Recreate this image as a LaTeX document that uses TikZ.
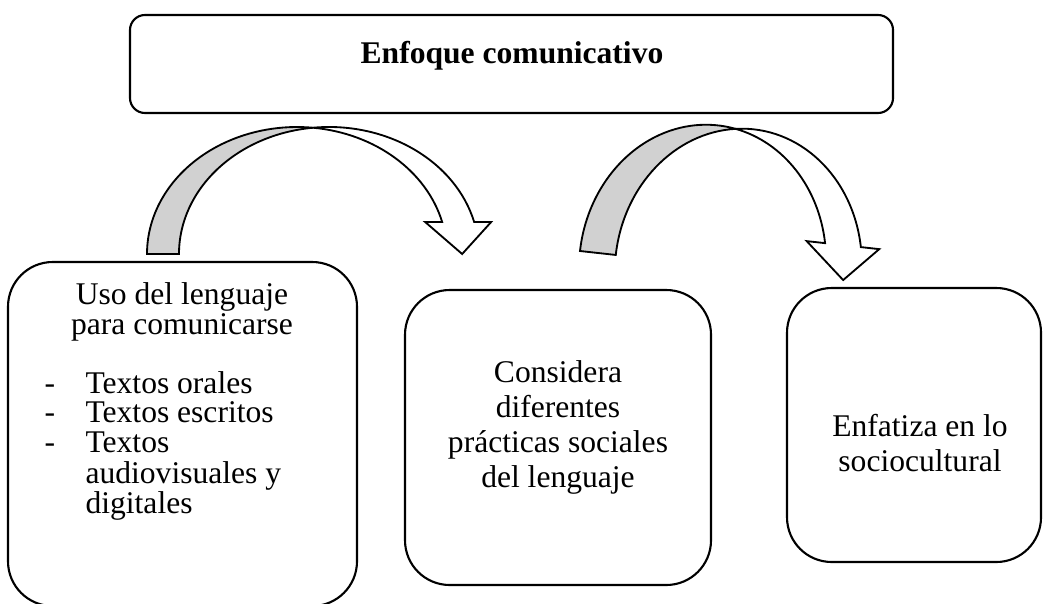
\documentclass[tikz,border=0pt]{standalone}
\usepackage{fontspec}
\setmainfont{Liberation Serif}
\usetikzlibrary{fit}
\definecolor{arrowgray}{gray}{0.82}

\tikzset{
  caja/.style={draw, line width=0.8pt, rounded corners=17pt, inner sep=0pt},
  texto/.style={font=\fontsize{12pt}{11.2pt}\selectfont, inner sep=0pt},
  flechaback/.style={fill=arrowgray, draw, line width=0.7pt},
  flechafront/.style={fill=white, draw, line width=0.7pt},
}

% curved block arrow: #1 x radius, #2 y radius, #3 band width, #4 head base height, #5 head overhang
\newcommand{\flecha}[5]{%
  \pgfmathsetmacro{\fte}{asin(#4/#2)}%
  \pgfmathsetmacro{\ftc}{acos(#3/(2*#1))}%
  \pgfmathsetmacro{\fsc}{180-\ftc}%
  \pgfmathsetmacro{\fxa}{#1+#1*cos(\fte)}%
  \pgfmathsetmacro{\fxb}{\fxa+#3}%
  \pgfmathsetmacro{\fxc}{#1+#3/2}%
  \pgfmathsetmacro{\fyc}{#2*sin(\ftc)}%
  \draw[flechaback] (0,0) arc[start angle=180, end angle=\ftc, x radius=#1, y radius=#2]
    arc[start angle=\fsc, end angle=180, x radius=#1, y radius=#2] -- cycle;
  \draw[flechafront] (\fxc,\fyc) arc[start angle=\ftc, end angle=\fte, x radius=#1, y radius=#2]
    -- (\fxa-#5,#4) -- ({(\fxa+\fxb)/2+4},0) -- (\fxb+#5,#4) -- (\fxb,#4)
    arc[start angle=\fte, end angle=\fsc, x radius=#1, y radius=#2] -- cycle;
}

\begin{document}
\begin{tikzpicture}[x=0.38pt, y=0.38pt]
  \useasboundingbox (0,0) rectangle (1043,603);

  % Draw the boxes
  \node[caja, rounded corners=5.7pt, fit={(130,490) (893,588)}] (enfoque) {};
  \node[caja, fit={(8,-3) (357,341)}] (uso) {};
  \node[caja, fit={(405,18) (711,313)}] (practicas) {};
  \node[caja, fit={(787,41) (1041,315)}] (socio) {};

  % Put the texts in
  \node[texto, font=\fontsize{12pt}{14pt}\selectfont\bfseries, anchor=base] (tenfoque) at (512,540) {Enfoque comunicativo};
  \node[texto, anchor=base, align=center] (tuso) at (182,269) {Uso del lenguaje\\para comunicarse};
  \node[texto, anchor=base west] (tlista) at (44,210) {\begin{tabular}[t]{@{}l@{\hspace{11.6pt}}l@{}}
      - & Textos orales\\
      - & Textos escritos\\
      - & Textos\\
        & audiovisuales y\\
        & digitales
    \end{tabular}};
  \node[texto, font=\fontsize{12pt}{13.3pt}\selectfont, anchor=base, align=center] (tpracticas) at (558,116) {Considera\\diferentes\\prácticas sociales\\del lenguaje};
  \node[texto, font=\fontsize{12pt}{13.3pt}\selectfont, anchor=base, align=center] (tsocio) at (920,132) {Enfatiza en lo\\sociocultural};

  % Draw the curved arrows
  \begin{scope}[shift={(147,349)}]
    \flecha{150}{127}{32}{32}{17}
  \end{scope}
  \begin{scope}[shift={(580,352)}, rotate=-6.3]
    \flecha{123.3}{140}{36}{34.7}{18.5}
  \end{scope}
\end{tikzpicture}
\end{document}
